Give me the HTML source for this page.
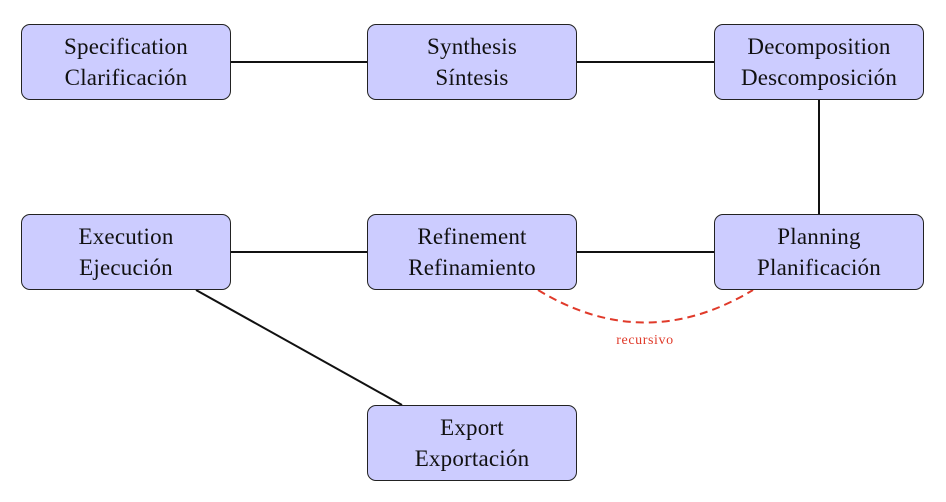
<!DOCTYPE html>
<html><head><style>
body{margin:0;background:#fff;width:946px;height:502px;overflow:hidden;position:relative;font-family:"Liberation Serif",serif}
.b{position:absolute;width:210px;height:76px;box-sizing:border-box;background:#ccccff;border:1.3px solid #222;border-radius:9px;display:flex;align-items:center;justify-content:center;text-align:center;font-size:23px;line-height:31px;color:#111;letter-spacing:0.2px}
svg{position:absolute;left:0;top:0}
</style></head><body>
<svg width="946" height="502">
<g stroke="#111" stroke-width="2" fill="none">
<line x1="230" y1="62" x2="368" y2="62"/>
<line x1="577" y1="62" x2="714" y2="62"/>
<line x1="819" y1="100" x2="819" y2="214"/>
<line x1="230" y1="252" x2="368" y2="252"/>
<line x1="577" y1="252" x2="714" y2="252"/>
<line x1="196" y1="290" x2="402" y2="405"/>
</g>
<path d="M538 290 Q645 355 753 290" stroke="#e03a2a" stroke-width="2" fill="none" stroke-dasharray="8,5"/>
<text x="645" y="344" font-size="14" letter-spacing="0.6" fill="#e03a2a" text-anchor="middle" font-family="Liberation Serif,serif">recursivo</text>
</svg>
<div class="b" style="left:21px;top:24px">Specification<br>Clarificación</div>
<div class="b" style="left:367px;top:24px">Synthesis<br>Síntesis</div>
<div class="b" style="left:714px;top:24px">Decomposition<br>Descomposición</div>
<div class="b" style="left:21px;top:214px">Execution<br>Ejecución</div>
<div class="b" style="left:367px;top:214px">Refinement<br>Refinamiento</div>
<div class="b" style="left:714px;top:214px">Planning<br>Planificación</div>
<div class="b" style="left:367px;top:405px">Export<br>Exportación</div>
</body></html>
